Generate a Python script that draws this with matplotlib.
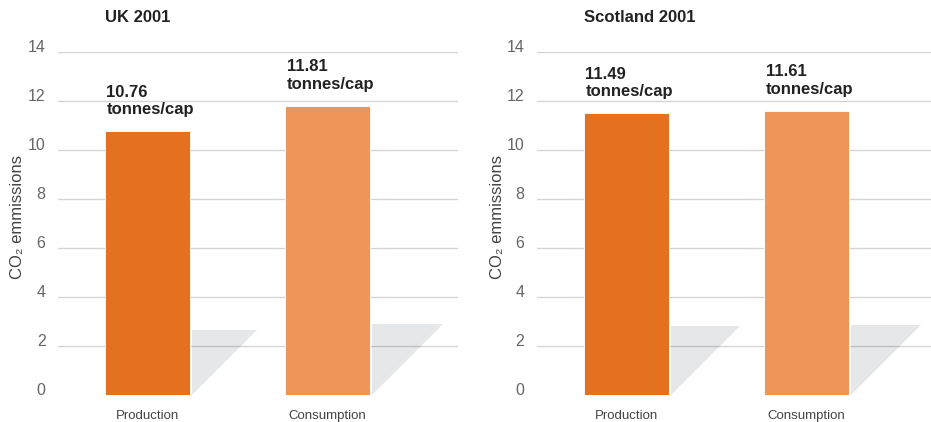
import matplotlib
matplotlib.use("Agg")
import matplotlib.pyplot as plt
from matplotlib.patches import Polygon

plt.rcParams['font.family'] = ['Liberation Sans', 'DejaVu Sans']

# ---- data ----
panel_titles = ["UK 2001", "Scotland 2001"]
categories = ["Production", "Consumption"]
uk_values = [10.76, 11.81]
scotland_values = [11.49, 11.61]
panel_values = [uk_values, scotland_values]
yticks = [0, 2, 4, 6, 8, 10, 12, 14]
ylabel = "CO\u2082 emmissions"
unit = "tonnes/cap"

# ---- style ----
bar_colors = ["#e4711f", "#ee9658"]
W, H = 931, 422
fig = plt.figure(figsize=(W / 100, H / 100), dpi=100)

axes_left_px = [58, 537]
ylabel_x_px = [25, 505]
ax_w_px = 400
ax_top_px, ax_bot_px = 52, 395
xlim = (-0.497, 1.725)
ylim = (0, 14)
bar_w = 0.472
shadow_ratio = 0.245

for i, (title, vals) in enumerate(zip(panel_titles, panel_values)):
    ax = fig.add_axes([axes_left_px[i] / W, (H - ax_bot_px) / H,
                       ax_w_px / W, (ax_bot_px - ax_top_px) / H])
    ax.set_xlim(*xlim)
    ax.set_ylim(*ylim)
    for s in ax.spines.values():
        s.set_visible(False)

    # gridlines
    for t in yticks[1:]:
        ax.axhline(t, color='black', alpha=0.17, lw=1.0, zorder=3)

    ppx = ax_w_px / (xlim[1] - xlim[0])
    ppy = (ax_bot_px - ax_top_px) / (ylim[1] - ylim[0])
    xs = list(range(len(categories)))
    ax.bar(xs, vals, width=bar_w, color=bar_colors, zorder=4,
           edgecolor='white', linewidth=0.6)

    for x, v in zip(xs, vals):
        # shadow
        h = v * shadow_ratio
        x0 = x + bar_w / 2 + 2 / ppx
        d = h * ppy / ppx
        poly = Polygon([(x0, 0), (x0, h), (x0 + d, h)], closed=True,
                       facecolor='#e6e7e8', edgecolor='none', zorder=2)
        ax.add_patch(poly)
        # value label
        ax.text(x - bar_w / 2 + 1.5 / ppx, v + 14 / ppy, f"{v:.2f}\n{unit}",
                ha='left', va='bottom', fontsize=12, fontweight='bold',
                color='#222222', linespacing=1.22, zorder=6)

    ax.set_xticks(xs)
    ax.set_xticklabels(categories, fontsize=9.5, color='#444444')
    ax.tick_params(axis='x', length=0, pad=11)
    ax.set_yticks(yticks)
    ax.set_yticklabels([str(t) for t in yticks], fontsize=11.5, color='#666666')
    ax.tick_params(axis='y', length=0, pad=9)
    for lab in ax.get_yticklabels():
        lab.set_verticalalignment('baseline')
        lab.set_fontweight('light')

    ax.set_ylabel(ylabel, fontsize=12, color='#444444')
    ax.yaxis.set_label_coords((ylabel_x_px[i] - axes_left_px[i]) / ax_w_px, 0.52)

    # title aligned with the first bar's left edge
    title_x_px = axes_left_px[i] + (0 - bar_w / 2 - xlim[0]) * ppx
    fig.text(title_x_px / W, 1 - 22 / H, title, fontsize=12,
             fontweight='bold', color='#222222', ha='left', va='baseline')

fig.savefig("out.png", dpi=100)
